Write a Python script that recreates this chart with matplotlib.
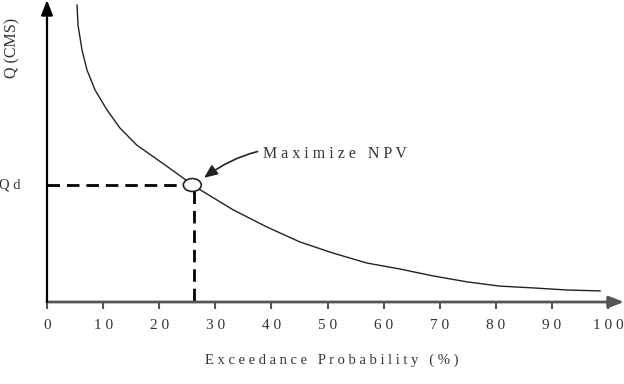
import matplotlib.pyplot as plt
from matplotlib.patches import Ellipse

# flow duration curve
prob = [5.35, 5.53, 6.24, 7.13, 8.56, 10.7, 13.0, 16.0, 19.8, 21.4, 25.1, 27.3,
        33.2, 39.2, 45.1, 51.0, 57.0, 62.9, 68.8, 74.9, 80.7, 86.6, 92.7, 98.6]
flow = [99, 92.3, 84, 77.3, 70.7, 64, 58, 52.3, 47.3, 45.2, 40.2, 37.4,
        30.7, 25, 20, 16.3, 13, 11, 8.7, 6.7, 5.3, 4.7, 4, 3.7]
xticks = [0, 10, 20, 30, 40, 50, 60, 70, 80, 90, 100]
qd = 39
p_opt = 26.2

W, H = 624, 384
fig = plt.figure(figsize=(W / 100, H / 100), dpi=100)
ax = fig.add_axes([47 / W, (H - 302) / H, (W - 47) / W, 302 / H])
ax.set_xlim(0, (W - 47) / 5.61)
ax.set_ylim(0, 302 / 3)
for s in ax.spines.values():
    s.set_visible(False)

serif = 'Liberation Serif'
txtc = '#333333'

# axes with arrow heads
ax.annotate('', xy=(1.0, 0), xytext=(0, 0), xycoords='axes fraction',
            arrowprops=dict(arrowstyle='-|>,head_length=0.9,head_width=0.35',
                            color='#555555', lw=2, shrinkA=0, shrinkB=0),
            annotation_clip=False)
ax.annotate('', xy=(0, 1.0), xytext=(0, 0), xycoords='axes fraction',
            arrowprops=dict(arrowstyle='-|>,head_length=0.9,head_width=0.35',
                            color='black', lw=1.6, shrinkA=0, shrinkB=0),
            annotation_clip=False)

ax.plot(prob, flow, color='#222222', lw=1.0)

ax.plot([0, p_opt - 1.5], [qd, qd], color='black', lw=2, dashes=(4.5, 2.5))
ax.plot([p_opt, p_opt], [qd - 2, 0], color='black', lw=2, dashes=(4.5, 2.5))
ax.add_patch(Ellipse((p_opt - 0.3, qd), 3.2, 4.3, facecolor='white',
                     edgecolor='#222222', lw=1.2, zorder=5))

ax.annotate('M a x i m i z e   N P V', xy=(p_opt + 1.8, qd + 2.4),
            xytext=(38.5, 49.3), fontsize=11.5, family=serif, color=txtc,
            va='center', ha='left',
            arrowprops=dict(arrowstyle='-|>,head_length=0.7,head_width=0.3',
                            color='#222222', lw=1.2,
                            connectionstyle='arc3,rad=0.25', shrinkA=2, shrinkB=0))

ax.set_xticks(xticks)
ax.set_xticklabels([' '.join(str(t)) for t in xticks], family=serif,
                   fontsize=11, color=txtc)
ax.tick_params(axis='x', direction='out', length=5, width=1.5, color='#555555',
               pad=7)
ax.set_yticks([])

fig.text(332 / W, 1 - 360 / H, 'E x c e e d a n c e   P r o b a b i l i t y   ( % )',
         family=serif, fontsize=10.5, color=txtc, ha='center', va='center')
fig.text(12 / W, 1 - 48 / H, 'Q (CMS)', family=serif, fontsize=11.5, color=txtc,
         rotation=90, ha='center', va='center')
fig.text(-1 / W, 1 - 185 / H, 'Q d', family=serif, fontsize=10.5, color=txtc,
         ha='left', va='center')

fig.savefig('out.png', dpi=100)
